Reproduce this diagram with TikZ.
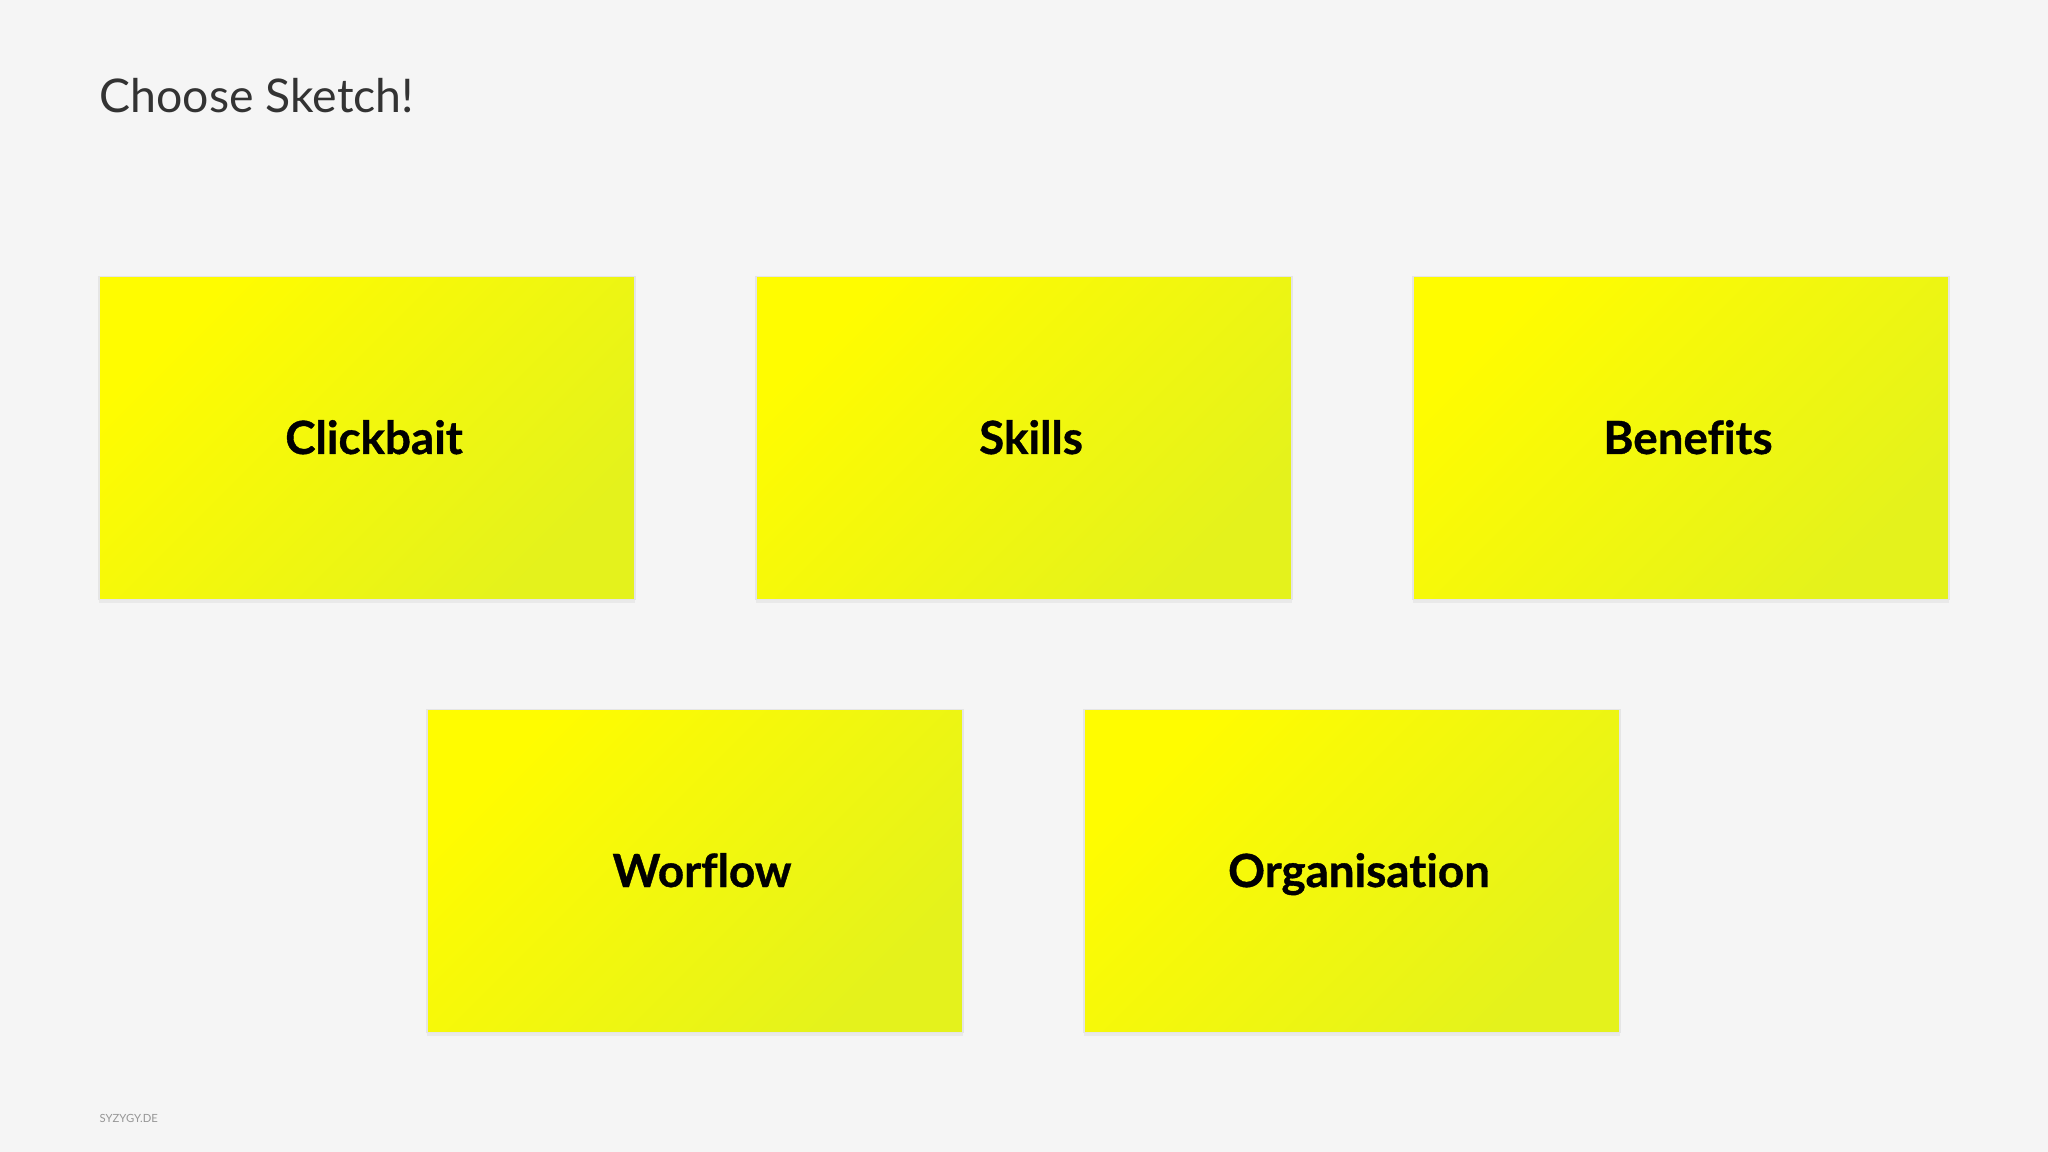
\documentclass[tikz,border=0pt]{standalone}
\usepackage{fontspec}
\setmainfont{Lato}
\newfontfamily\labelfont[Ligatures=NoCommon,BoldFeatures={FakeBold=0.8}]{Lato}
\usetikzlibrary{shadows}
\definecolor{bgcol}{RGB}{245,245,245}
\definecolor{cardhi}{RGB}{255,252,0}
\definecolor{cardlo}{RGB}{228,242,28}
\definecolor{footcol}{RGB}{150,150,150}
\tikzset{
  card/.style={
    minimum width=5.36cm, minimum height=3.23cm, inner sep=0,
    top color=cardhi, bottom color=cardlo, shading angle=45,
    draw=black!10, line width=.4pt,
    drop shadow={opacity=.10, shadow xshift=0pt, shadow yshift=-1pt}
  },
  cardtext/.style={inner sep=0, anchor=base, font=\labelfont\bfseries\fontsize{13}{15}\selectfont},
  title/.style={anchor=base west, inner sep=0, font=\fontsize{13.2}{15}\selectfont, text=black!80},
  foot/.style={anchor=base west, inner sep=0, font=\fontsize{3.2}{4}\selectfont, text=footcol}
}

\begin{document}
\begin{tikzpicture}[x=0.01cm,y=-0.01cm]
    \fill[bgcol] (0,0) rectangle (2048,1152);
    \useasboundingbox (0,0) rectangle (2048,1152);

    \node[title] (head) at (99,113) {Choose Sketch!};

    % first row
    \node[card] (click) at (367,438) {};
    \node[cardtext] (clickl) at ([shift={(7,16)}]click.center) {Clickbait};
    \node[card] (skills) at (1024,438) {};
    \node[cardtext] (skillsl) at ([shift={(7,16)}]skills.center) {Skills};
    \node[card] (bene) at (1681,438) {};
    \node[cardtext] (benel) at ([shift={(7,16)}]bene.center) {Benefits};

    % second row
    \node[card] (flow) at (695,871) {};
    \node[cardtext] (flowl) at ([shift={(7,16)}]flow.center) {Worflow};
    \node[card] (orga) at (1352,871) {};
    \node[cardtext] (orgal) at ([shift={(7,16)}]orga.center) {Organisation};

    \node[foot] (site) at (99,1122) {SYZYGY.DE};
\end{tikzpicture}
\end{document}
